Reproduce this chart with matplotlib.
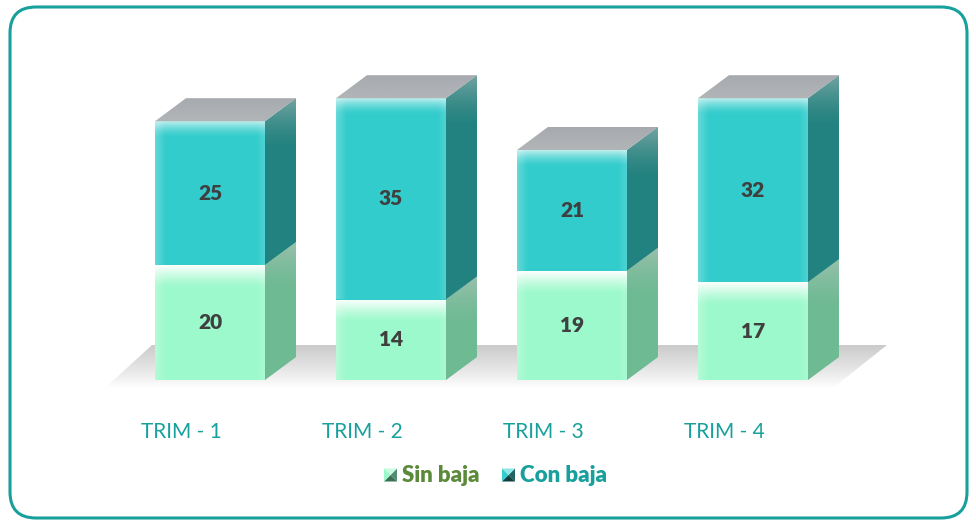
import numpy as np
import matplotlib.pyplot as plt
from matplotlib.patches import Polygon, FancyBboxPatch
from matplotlib.transforms import IdentityTransform

# data
categories = ["TRIM - 1", "TRIM - 2", "TRIM - 3", "TRIM - 4"]
sin_baja = [20, 14, 19, 17]
con_baja = [25, 35, 21, 32]

# colores
sin_front = "#9cf9cb"
sin_side = "#6dba93"
con_front = "#33cccc"
con_side = "#22827f"
top_col = "#b2b5b8"
teal = "#17a09c"
green = "#5b8a3a"

plt.rcParams["font.family"] = ["Lato", "DejaVu Sans"]

fig = plt.figure(figsize=(9.76, 5.24), dpi=100)
ax = fig.add_axes([0, 0, 1, 1])
ax.axis("off")

# escala: 181 px por categoria, 5.75 px por unidad, base en y=380 px
ax.set_xlim(-155 / 181, (976 - 155) / 181)
ax.set_ylim((380 - 524) / 5.75, 380 / 5.75)

w = 110 / 181
dx = 31 / 181
dy = 23 / 5.75


def vgrad(x0, x1, y0, y1, clip, a_top, a_bot, color=(1, 1, 1), power=1.0):
    n = 64
    t = np.linspace(0, 1, n) ** power
    img = np.zeros((n, 2, 4))
    img[..., 0], img[..., 1], img[..., 2] = color
    img[..., 3] = (a_top + (a_bot - a_top) * t)[:, None]
    im = ax.imshow(img, extent=(x0, x1, y1, y0), origin="upper",
                   aspect="auto", interpolation="bilinear", zorder=clip.get_zorder() + 0.1)
    im.set_clip_path(clip)


def hgrad(x0, x1, y0, y1, clip, a_left, a_right, color=(1, 1, 1)):
    n = 32
    img = np.zeros((2, n, 4))
    img[..., 0], img[..., 1], img[..., 2] = color
    img[..., 3] = np.linspace(a_left, a_right, n)[None, :]
    im = ax.imshow(img, extent=(x0, x1, y0, y1), origin="lower",
                   aspect="auto", interpolation="bilinear", zorder=clip.get_zorder() + 0.05)
    im.set_clip_path(clip)


# sombra del suelo
floor = Polygon([(-50 / 181, -8 / 5.75), (678 / 181, -8 / 5.75),
                 (732 / 181, 35 / 5.75), (-3 / 181, 35 / 5.75)],
                closed=True, facecolor="none", edgecolor="none", zorder=1)
ax.add_patch(floor)
n = 64
img = np.zeros((n, 2, 4))
img[..., :3] = 0.72
img[..., 3] = np.linspace(0.0, 0.7, n)[:, None] ** 0.9
im = ax.imshow(img, extent=(-50 / 181, 732 / 181, -8 / 5.75, 35 / 5.75),
               origin="lower", aspect="auto", interpolation="bilinear", zorder=1)
im.set_clip_path(floor)

for i in range(len(categories)):
    x0 = i
    segs = [(0, sin_baja[i], sin_front, sin_side),
            (sin_baja[i], sin_baja[i] + con_baja[i], con_front, con_side)]
    for k, (b, t, fc, sc) in enumerate(segs):
        z = 3 + k
        side = Polygon([(x0 + w, b), (x0 + w + dx, b + dy), (x0 + w + dx, t + dy), (x0 + w, t)],
                       closed=True, facecolor=sc, edgecolor="none", zorder=z)
        ax.add_patch(side)
        # sombra gris en la parte alta del lado
        vgrad(x0 + w, x0 + w + dx, t - 5, t + dy, side, 0.0, 0.5,
              color=(0.78, 0.78, 0.78), power=1.5)
        front = Polygon([(x0, b), (x0 + w, b), (x0 + w, t), (x0, t)],
                        closed=True, facecolor=fc, edgecolor="none", zorder=z + 0.2)
        ax.add_patch(front)
        # brillo lateral suave
        hgrad(x0, x0 + 0.06, b, t, front, 0.25, 0.0)
        hgrad(x0 + w - 0.05, x0 + w, b, t, front, 0.0, 0.15)
        # brillo en el borde superior
        if k == 0:
            vgrad(x0, x0 + w, t - 4.0, t, front, 0.0, 1.0, power=1.3)
        else:
            vgrad(x0, x0 + w, t - 3.0, t, front, 0.0, 0.75, power=1.6)
        ax.text(x0 + w / 2, (b + t) / 2, str(t - b), ha="center", va="center",
                fontsize=15, fontweight="heavy", color="#3f3f3f", zorder=10)
    tot = sin_baja[i] + con_baja[i]
    top = Polygon([(x0, tot), (x0 + dx, tot + dy), (x0 + w + dx, tot + dy), (x0 + w, tot)],
                  closed=True, facecolor=top_col, edgecolor="none", zorder=6)
    ax.add_patch(top)
    vgrad(x0, x0 + w + dx, tot, tot + dy, top, 0.0, 0.3, color=(0.55, 0.57, 0.6))

    ax.text(x0 + 26 / 181, (380 - 432) / 5.75, categories[i], ha="center", va="center",
            fontsize=15, color=teal)


# leyenda
def legend_marker(px, py, top_c, left_c, right_c, bot_c):
    s = 13
    xs = [px, px + s]
    ys = [524 - py - s / 2, 524 - py + s / 2]
    cx, cy = px + s / 2, 524 - py
    tris = [([(xs[0], ys[0]), (xs[1], ys[0]), (cx, cy)], bot_c),
            ([(xs[1], ys[0]), (xs[1], ys[1]), (cx, cy)], right_c),
            ([(xs[0], ys[1]), (xs[1], ys[1]), (cx, cy)], top_c),
            ([(xs[0], ys[0]), (xs[0], ys[1]), (cx, cy)], left_c)]
    for pts, c in tris:
        fig.add_artist(Polygon(pts, closed=True, facecolor=c, edgecolor="none",
                               transform=IdentityTransform()))


legend_marker(384, 475, "#c8fbe2", sin_front, "#4f8f70", "#3a6e55")
fig.text(402 / 976, 1 - 475 / 524, "Sin baja", ha="left", va="center",
         fontsize=16, fontweight="heavy", color=green)
legend_marker(502, 475, "#8ee6e6", con_front, "#1d6462", "#123f3e")
fig.text(520 / 976, 1 - 475 / 524, "Con baja", ha="left", va="center",
         fontsize=16, fontweight="heavy", color=teal)

# marco redondeado
border = FancyBboxPatch((10, 6), 957, 511, boxstyle="round,pad=0,rounding_size=26",
                        facecolor="none", edgecolor=teal, linewidth=2.2,
                        transform=IdentityTransform())
fig.add_artist(border)

fig.savefig("out.png", dpi=100)
